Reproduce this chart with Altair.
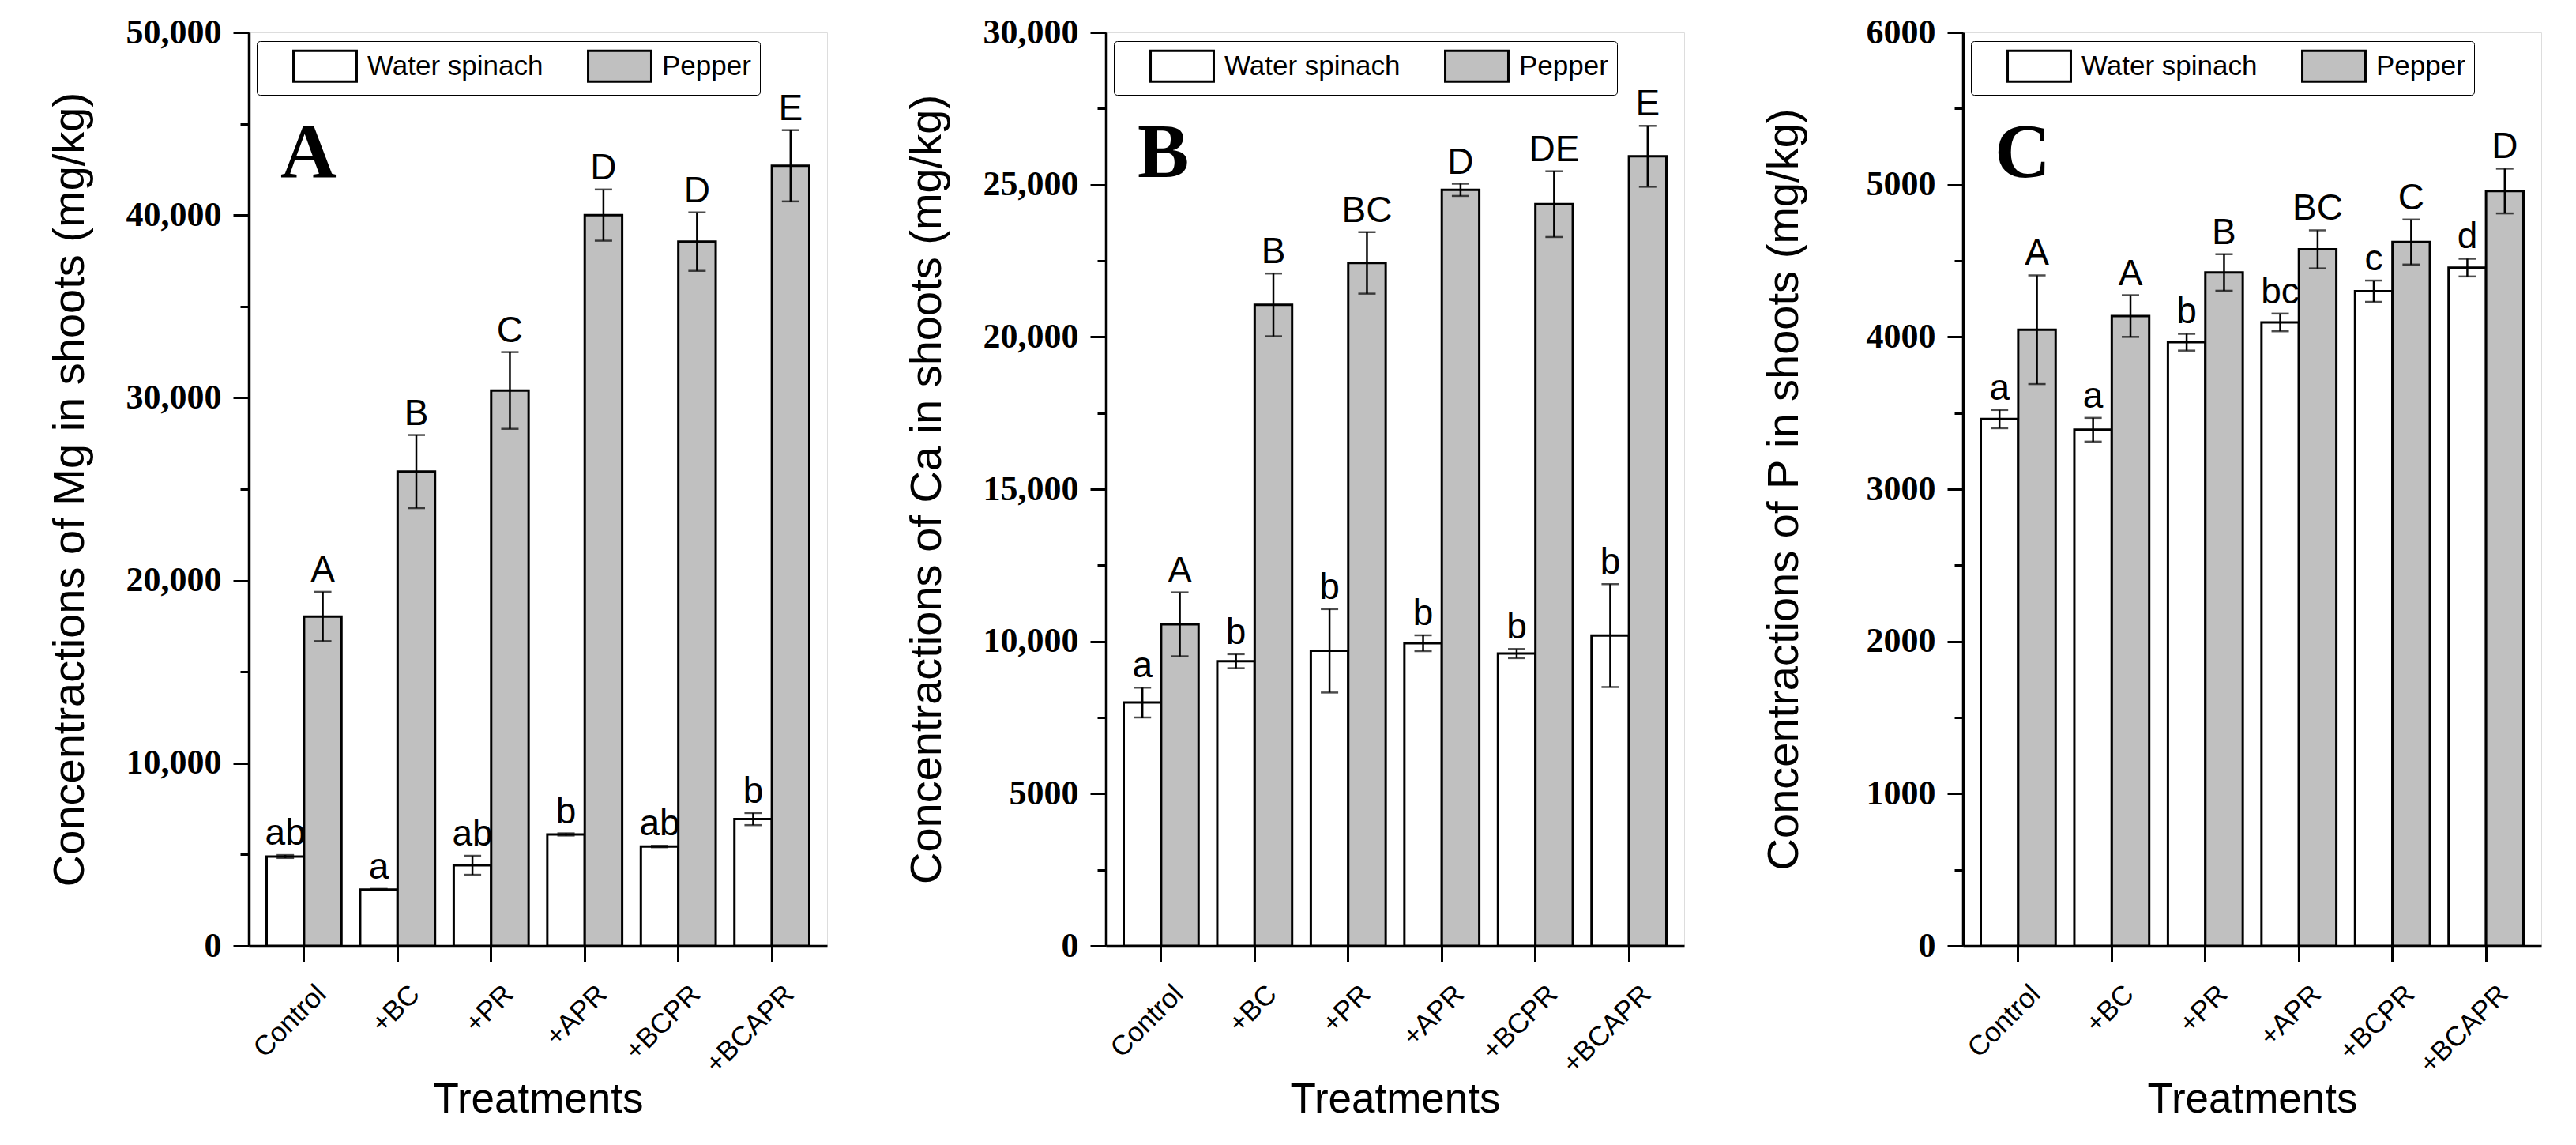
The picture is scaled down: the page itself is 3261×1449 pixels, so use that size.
import altair as alt
import pandas as pd

treatments = ["Control", "+BC", "+PR", "+APR", "+BCPR", "+BCAPR"]
plants = ["Water spinach", "Pepper"]
panel_letters = ["A", "B", "C"]

mg_ws = [4890, 3080, 4410, 6100, 5440, 6940]
mg_ws_err = [80, 40, 520, 60, 40, 330]
mg_pep = [18030, 25960, 30400, 40000, 38550, 42700]
mg_pep_err = [1350, 2000, 2100, 1400, 1600, 1950]
mg_ws_lab = ["ab", "a", "ab", "b", "ab", "b"]
mg_pep_lab = ["A", "B", "C", "D", "D", "E"]

ca_ws = [7990, 9350, 9690, 9940, 9600, 10190]
ca_ws_err = [490, 230, 1370, 260, 150, 1690]
ca_pep = [10560, 21050, 22430, 24830, 24360, 25930]
ca_pep_err = [1050, 1030, 1010, 200, 1080, 1000]
ca_ws_lab = ["a", "b", "b", "b", "b", "b"]
ca_pep_lab = ["A", "B", "BC", "D", "DE", "E"]

p_ws = [3460, 3390, 3965, 4095, 4300, 4455]
p_ws_err = [60, 78, 55, 58, 70, 58]
p_pep = [4047, 4137, 4423, 4575, 4623, 4958]
p_pep_err = [357, 137, 120, 125, 148, 147]
p_ws_lab = ["a", "a", "b", "bc", "c", "d"]
p_pep_lab = ["A", "A", "B", "BC", "C", "D"]

y_titles = [
    "Concentractions of Mg in shoots (mg/kg)",
    "Concentractions of Ca in shoots (mg/kg)",
    "Concentractions of P in shoots (mg/kg)",
]
y_max = [50000, 30000, 6000]
y_major = [10000, 5000, 1000]

W, H = 732, 1156
SANS = "Liberation Sans"
SERIF = "Liberation Serif"


def make_df(ws, ws_err, pep, pep_err, ws_lab, pep_lab):
    rows = []
    for i, t in enumerate(treatments):
        rows.append(dict(Treatment=t, Plant=plants[0], mean=ws[i], lo=ws[i] - ws_err[i],
                         hi=ws[i] + ws_err[i], label=ws_lab[i]))
        rows.append(dict(Treatment=t, Plant=plants[1], mean=pep[i], lo=pep[i] - pep_err[i],
                         hi=pep[i] + pep_err[i], label=pep_lab[i]))
    return pd.DataFrame(rows)


datasets = [
    make_df(mg_ws, mg_ws_err, mg_pep, mg_pep_err, mg_ws_lab, mg_pep_lab),
    make_df(ca_ws, ca_ws_err, ca_pep, ca_pep_err, ca_ws_lab, ca_pep_lab),
    make_df(p_ws, p_ws_err, p_pep, p_pep_err, p_ws_lab, p_pep_lab),
]


def panel(df, letter, ytitle, ymax, major):
    minor = major // 2
    values = list(range(0, ymax + 1, minor))
    label_expr = (f"datum.value % {major} == 0 ? (datum.value >= 10000 ? format(datum.value, ',') "
                  f": format(datum.value, 'd')) : ''")
    x_enc = alt.X(
        "Treatment:N", sort=treatments,
        scale=alt.Scale(paddingInner=0.2, paddingOuter=0.19),
        axis=alt.Axis(
            title="Treatments", labelAngle=-45, labelAlign="right", labelBaseline="middle",
            labelFont=SANS, labelFontSize=35, labelColor="black", labelOffset=22, labelPadding=35,
            tickSize=20, tickWidth=3, tickColor="black", domainColor="black", domainWidth=3.5,
            titleFont=SANS, titleFontSize=53, titleFontWeight="normal", titleColor="black",
            titleY=210, titleBaseline="alphabetic", grid=False,
        ),
    )
    xo_enc = alt.XOffset("Plant:N", sort=plants, scale=alt.Scale(paddingInner=0, paddingOuter=0))
    y_scale = alt.Scale(domain=[0, ymax], nice=False, zero=True)
    y_axis = alt.Axis(
        values=values, title=ytitle, labelExpr=label_expr,
        tickSize={"condition": {"test": f"datum.value % {major} == 0", "value": 20}, "value": 11},
        tickWidth=3, tickColor="black", domainColor="black", domainWidth=3.5,
        labelFont=SERIF, labelFontWeight="bold", labelFontSize=44, labelColor="black", labelPadding=15,
        titleFont=SANS, titleFontSize=56, titleFontWeight="normal", titleColor="black",
        titleX=-210, titleY=H / 2, titleBaseline="alphabetic", grid=False,
    )
    base = alt.Chart(df)
    bars = base.mark_bar(stroke="black", strokeWidth=3).encode(
        x=x_enc, xOffset=xo_enc,
        y=alt.Y("mean:Q", scale=y_scale, axis=y_axis),
        fill=alt.Fill(
            "Plant:N", sort=plants,
            scale=alt.Scale(domain=plants, range=["white", "#c0c0c0"]),
            legend=alt.Legend(
                title=None, orient="none", legendX=10, legendY=11, direction="horizontal",
                strokeColor="black", padding=10.5, cornerRadius=4, fillColor="white",
                symbolType="M-2.05,-1H2.05V1H-2.05Z", symbolSize=1521,
                symbolStrokeColor="black", symbolStrokeWidth=3, symbolOffset=55,
                labelOffset=32.5, labelFont=SANS, labelFontSize=35, labelColor="black",
                labelLimit=600, columnPadding=21,
            ),
        ),
    )
    rules = base.mark_rule(color="black", strokeWidth=2.5).encode(
        x=x_enc, xOffset=xo_enc, y="lo:Q", y2="hi:Q"
    )
    caps = base.transform_fold(["lo", "hi"], as_=["bound", "val"]).mark_tick(
        color="black", size=22, thickness=2.5
    ).encode(x=x_enc, xOffset=xo_enc, y="val:Q")
    texts = base.mark_text(
        font=SANS, fontSize=46, color="black", baseline="alphabetic", dy=-13
    ).encode(x=x_enc, xOffset=xo_enc, y="hi:Q", text="label:N")
    letter_df = pd.DataFrame({"letter": [letter]})
    letter_mark = alt.Chart(letter_df).mark_text(
        font=SERIF, fontWeight="bold", fontSize=98, color="black", align="left", baseline="alphabetic"
    ).encode(text="letter:N", x=alt.value(40), y=alt.value(183))
    return alt.layer(bars, rules, caps, texts, letter_mark).properties(width=W, height=H)


panels = [
    panel(datasets[i], panel_letters[i], y_titles[i], y_max[i], y_major[i]) for i in range(3)
]

chart = alt.hconcat(*panels, spacing=96).resolve_scale(fill="independent").properties(
    padding={"left": 51, "top": 10, "right": 5, "bottom": 5}
).configure_view(stroke="black", strokeWidth=3.5).configure_legend(strokeWidth=3).configure(
    background="white"
)

chart.save("out.html", embed_options={"renderer": "svg", "actions": False})
